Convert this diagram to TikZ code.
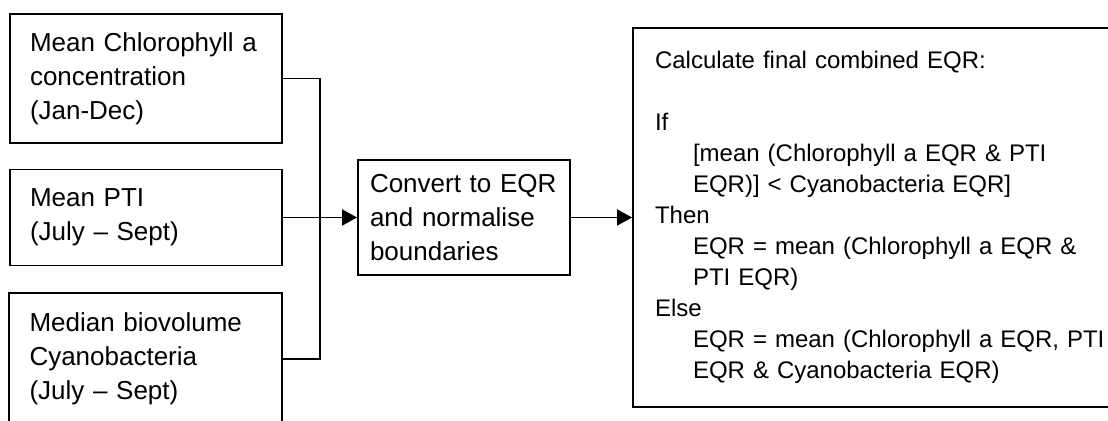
\documentclass[tikz,border=0pt]{standalone}
\usepackage{fontspec}
\setmainfont{Liberation Sans}
\usepackage{tikz}
\usetikzlibrary{arrows.meta,positioning}
\tikzset{
  block/.style={draw,line width=0.9pt,align=left,inner sep=0pt,
    font=\fontsize{13}{17}\selectfont},
  rulebox/.style={block,font=\fontsize{12}{15.5}\selectfont},
  link/.style={line width=0.9pt},
  flow/.style={-{Triangle[length=7.5pt,width=8pt]},line width=0.9pt}
}
\newcommand{\ind}{\hspace*{19pt}}

\begin{document}
\begin{tikzpicture}[x=0.5pt,y=-0.5pt]
  \clip (0,0) rectangle (1108,421);
  % Input measures
  \node[block,minimum width=136pt,minimum height=64.5pt,text width=116pt] (chl) at (146,78.5)
    {Mean Chlorophyll a\\concentration\\(Jan-Dec)};
  \node[block,minimum width=136pt,minimum height=48pt,text width=116pt] (pti) at (146,217.5)
    {Mean PTI\\(July – Sept)};
  \node[block,minimum width=136.5pt,minimum height=66pt,text width=116pt] (cyano) at (145.5,359)
    {Median biovolume\\Cyanobacteria\\(July – Sept)};
  % Conversion
  \node[block,minimum width=106pt,minimum height=57.5pt,text width=94pt] (convert) at (464,217.5)
    {Convert to EQR\\and normalise\\boundaries};
  % Combined EQR
  \node[rulebox,minimum width=282pt,minimum height=189.5pt,text width=260pt] (combine) at (915,217.5)
    {Calculate final combined EQR:\\[15.5pt]
     If\\
     \ind[mean (Chlorophyll a EQR \& PTI\\
     \ind EQR)] < Cyanobacteria EQR]\\
     Then\\
     \ind EQR = mean (Chlorophyll a EQR \&\\
     \ind PTI EQR)\\
     Else\\
     \ind EQR = mean (Chlorophyll a EQR, PTI\\
     \ind EQR \& Cyanobacteria EQR)};
  % Connectors
  \coordinate (bus) at (320,217.5);
  \draw[link] (chl.east) -| (bus);
  \draw[link] (cyano.east) -| (bus);
  \draw[flow] (pti.east) -- (convert.west);
  \draw[flow] (convert.east) -- (combine.west);
\end{tikzpicture}
\end{document}
